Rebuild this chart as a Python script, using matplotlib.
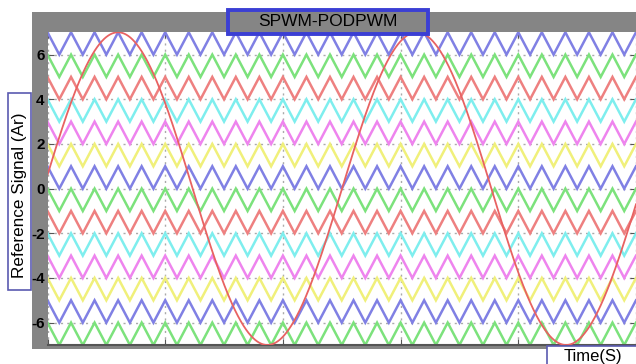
import numpy as np
import matplotlib
matplotlib.use("Agg")
import matplotlib.pyplot as plt
from matplotlib.patches import Rectangle

# ---- data ----
carrier_bases = [-7, -6, -5, -4, -3, -2, -1, 0, 1, 2, 3, 4, 5, 6]
carrier_colors = ["#7ce27c", "#8080e4", "#f0f07a", "#ee84ee", "#7eeeee", "#ee8080",
                  "#7ce27c", "#8080e4", "#f0f07a", "#ee84ee", "#7eeeee", "#ee8080",
                  "#7ce27c", "#8080e4"]
carrier_period = 0.2          # time units per carrier cycle
ref_amplitude = 7.0
ref_period = 2.538
ref_zero_cross = -0.0355      # upward zero crossing time
x_ticks = [0, 1, 2, 3, 4, 5]
y_ticks = [-6, -4, -2, 0, 2, 4, 6]
y_tick_labels = ["-6", "-4", "-2", "0", "2", "4", "6"]
title_text = "SPWM-PODPWM"
ylabel_text = "Reference Signal (Ar)"
xlabel_text = "Time(S)"

plt.rcParams["axes.unicode_minus"] = False
plt.rcParams["font.family"] = ["Liberation Sans", "DejaVu Sans"]

W, H = 636, 364
fig = plt.figure(figsize=(W / 100, H / 100), dpi=100)
fig.patch.set_facecolor("white")

def fx(px):
    return px / W

def fy(py):
    return 1 - py / H

gray = "#858585"
# gray frame
fig.patches.append(Rectangle((fx(32), fy(349)), fx(636 - 32) + 0.01, (349 - 12) / H,
                             transform=fig.transFigure, facecolor=gray, edgecolor="none", zorder=-5))

ax = fig.add_axes([fx(47.5), fy(345), 1 - fx(47.5), (345 - 32.3) / H])
ax.set_zorder(1)
ax.set_facecolor("white")

xmax = 5.0
# carriers (vertices at half-periods)
n_half = int(round(xmax / (carrier_period / 2)))
tv = np.arange(n_half + 1) * (carrier_period / 2)
for base, col in zip(carrier_bases, carrier_colors):
    lv = base + (np.arange(n_half + 1) % 2 == 0).astype(float)
    ax.plot(tv, lv, color=col, lw=1.8, solid_joinstyle="miter", zorder=2)

t = np.linspace(0, xmax, 2000)
ref = ref_amplitude * np.sin(2 * np.pi * (t - ref_zero_cross) / ref_period)
ax.plot(t, ref, color="#e86262", lw=1.3, zorder=3)

ax.set_xlim(0, xmax)
ax.set_ylim(-7, 7)
ax.set_xticks(x_ticks)
ax.set_xticklabels([])
ax.set_yticks(y_ticks)
ax.set_yticklabels(y_tick_labels, fontsize=11, fontweight="bold")
ax.tick_params(axis="both", direction="in", length=4, color="#555555", pad=2,
               top=True, right=True)
ax.grid(True, color="#aaaaaa", linestyle=(0, (1.5, 3)), lw=1.0)
ax.set_axisbelow(True)
for s in ax.spines.values():
    s.set_visible(False)
ax.spines["bottom"].set_visible(True)
ax.spines["bottom"].set_color("#555555")
ax.spines["bottom"].set_linewidth(1.5)

# title box
fig.patches.append(Rectangle((fx(228), fy(34)), (428 - 228) / W, (34 - 10) / H,
                             transform=fig.transFigure, facecolor=gray, edgecolor="#3b3fd4",
                             lw=2.8, zorder=5))
fig.text(fx(328), fy(21.5), title_text, ha="center", va="center", fontsize=12.5, zorder=6)

# ylabel box
fig.patches.append(Rectangle((fx(8), fy(290)), (31 - 8) / W, (290 - 93) / H,
                             transform=fig.transFigure, facecolor="white", edgecolor="#5a5ab0",
                             lw=1.2, zorder=5))
fig.text(fx(19.5), fy(195), ylabel_text, ha="center", va="center", rotation=90,
         fontsize=12.3, zorder=6)

# xlabel box
fig.patches.append(Rectangle((fx(547), fy(366)), (640 - 547) / W, (366 - 345.5) / H,
                             transform=fig.transFigure, facecolor="white", edgecolor="#5a5ab0",
                             lw=1.2, zorder=5))
fig.text(fx(593), fy(356.5), xlabel_text, ha="center", va="center", fontsize=12, zorder=6)

fig.savefig("out.png", dpi=100)
